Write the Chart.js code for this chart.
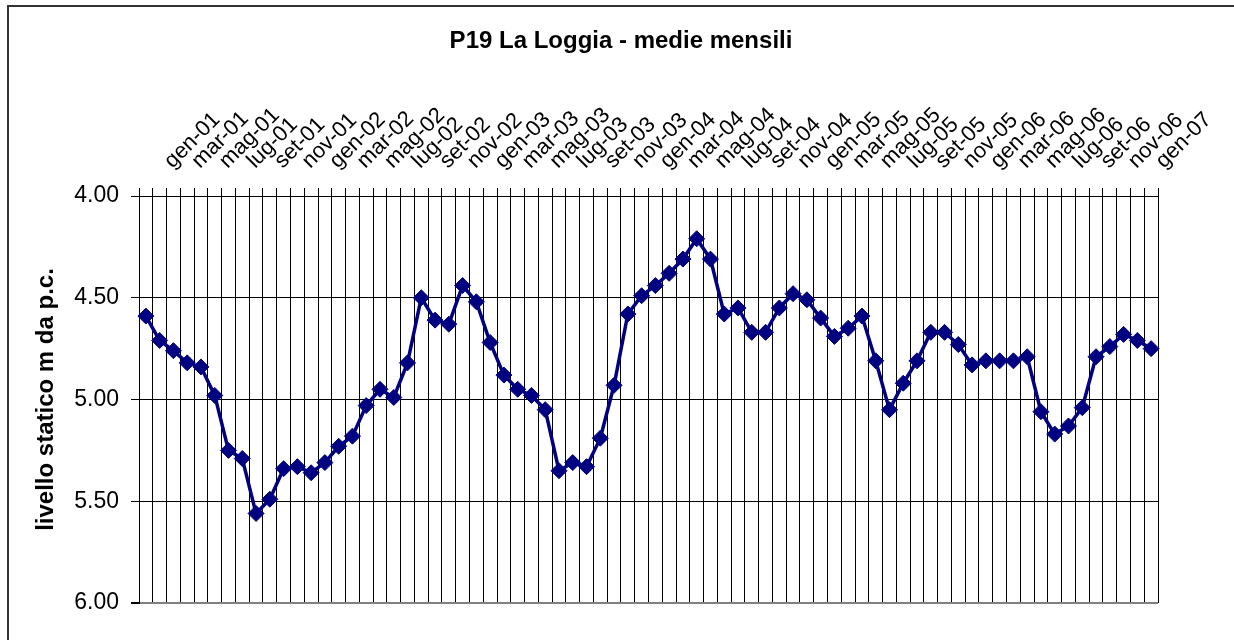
<!DOCTYPE html>
<html lang="it">
<head>
<meta charset="utf-8">
<title>P19 La Loggia - medie mensili</title>
<script src="https://cdn.jsdelivr.net/npm/chart.js@4.4.1/dist/chart.umd.min.js"></script>
<style>
    html, body { margin: 0; padding: 0; background: #fff; }
    #wrap { width: 1234px; height: 640px; }
</style>
</head>
<body>
<div id="wrap"><canvas id="loggiaChart" width="1234" height="640"></canvas></div>
<script>
// ==============================================================================
// 1. DATA
// ==============================================================================
const chartTitle = "P19 La Loggia - medie mensili";
const yTitle = "livello statico m da p.c.";

const mesi = [
    "gen-01","feb-01","mar-01","apr-01","mag-01","giu-01","lug-01","ago-01","set-01","ott-01","nov-01","dic-01",
    "gen-02","feb-02","mar-02","apr-02","mag-02","giu-02","lug-02","ago-02","set-02","ott-02","nov-02","dic-02",
    "gen-03","feb-03","mar-03","apr-03","mag-03","giu-03","lug-03","ago-03","set-03","ott-03","nov-03","dic-03",
    "gen-04","feb-04","mar-04","apr-04","mag-04","giu-04","lug-04","ago-04","set-04","ott-04","nov-04","dic-04",
    "gen-05","feb-05","mar-05","apr-05","mag-05","giu-05","lug-05","ago-05","set-05","ott-05","nov-05","dic-05",
    "gen-06","feb-06","mar-06","apr-06","mag-06","giu-06","lug-06","ago-06","set-06","ott-06","nov-06","dic-06",
    "gen-07","feb-07"
];

// livello statico (m da p.c.), one value per month
const livello = [
    4.59, 4.71, 4.76, 4.82, 4.84, 4.98, 5.25, 5.29, 5.56, 5.49, 5.34, 5.33,
    5.36, 5.31, 5.23, 5.18, 5.03, 4.95, 4.99, 4.82, 4.50, 4.61, 4.63, 4.44,
    4.52, 4.72, 4.88, 4.95, 4.98, 5.05, 5.35, 5.31, 5.33, 5.19, 4.93, 4.58,
    4.49, 4.44, 4.38, 4.31, 4.21, 4.31, 4.58, 4.55, 4.67, 4.67, 4.55, 4.48,
    4.51, 4.60, 4.69, 4.65, 4.59, 4.81, 5.05, 4.92, 4.81, 4.67, 4.67, 4.73,
    4.83, 4.81, 4.81, 4.81, 4.79, 5.06, 5.17, 5.13, 5.04, 4.79, 4.74, 4.68,
    4.71, 4.75
];

const yTicks = [4.00, 4.50, 5.00, 5.50, 6.00];

// ==============================================================================
// 2. PLUGINS (frame + title, Excel style)
// ==============================================================================
const FONT = '"Liberation Sans", Arial, sans-serif';

const excelFrame = {
    id: 'excelFrame',
    afterDraw(chart) {
        const ctx = chart.ctx;
        ctx.save();
        ctx.strokeStyle = '#333';
        ctx.lineWidth = 2;
        ctx.beginPath();
        ctx.moveTo(8, chart.height);
        ctx.lineTo(8, 6);
        ctx.lineTo(chart.width, 6);
        ctx.stroke();

        ctx.fillStyle = '#000';
        ctx.font = 'bold 24px ' + FONT;
        ctx.textAlign = 'center';
        ctx.textBaseline = 'middle';
        ctx.fillText(chartTitle, 621, 41);
        ctx.restore();
    }
};

// ==============================================================================
// 3. CHART
// ==============================================================================
Chart.defaults.font.family = FONT;
Chart.defaults.color = '#000';

const ctx = document.getElementById('loggiaChart').getContext('2d');
const loggiaChart = new Chart(ctx, {
    type: 'line',
    data: {
        labels: mesi,
        datasets: [{
            label: 'P19 La Loggia',
            data: livello,
            borderColor: '#000080',
            backgroundColor: '#000080',
            borderWidth: 3.5,
            pointStyle: 'rectRot',
            pointRadius: 8,
            pointBorderWidth: 1,
            pointBackgroundColor: '#000080',
            pointBorderColor: '#000080',
            tension: 0,
            fill: false
        }]
    },
    options: {
        responsive: false,
        animation: false,
        layout: { padding: { left: 20, right: 76, top: 60, bottom: 37 } },
        plugins: {
            legend: { display: false },
            tooltip: { enabled: false },
            title: { display: false }
        },
        scales: {
            x: {
                type: 'category',
                position: 'top',
                offset: true,
                grid: {
                    offset: true,
                    // right edge of the plot is grey like in Excel
                    color: (c) => (c.index === mesi.length ? '#808080' : '#000'),
                    lineWidth: (c) => (c.index === mesi.length ? 2 : 1),
                    tickLength: 8,
                    tickColor: '#000'
                },
                border: { color: '#000' },
                ticks: {
                    autoSkip: false,
                    minRotation: 45,
                    maxRotation: 45,
                    padding: 14,
                    labelOffset: 41,
                    font: { size: 22 },
                    callback: function(val, i) { return i % 2 === 0 ? mesi[i] : ''; }
                },
                afterFit: function(scale) { scale.height = 136; }
            },
            y: {
                reverse: true,
                min: 4,
                max: 6,
                afterBuildTicks: function(scale) { scale.ticks = yTicks.map(v => ({ value: v })); },
                grid: {
                    color: (c) => (c.tick && c.tick.value === 6 ? '#808080' : '#000'),
                    lineWidth: (c) => (c.tick && c.tick.value === 6 ? 2 : 1),
                    tickLength: 8,
                    tickColor: '#000'
                },
                border: { color: '#000' },
                ticks: {
                    padding: 12,
                    font: { size: 23 },
                    callback: function(value) { return Number(value).toFixed(2); }
                },
                title: {
                    display: true,
                    text: yTitle,
                    font: { size: 24, weight: 'bold' },
                    padding: { top: 12, bottom: 4 }
                },
                afterFit: function(scale) { scale.width = 119; }
            }
        }
    },
    plugins: [excelFrame]
});
</script>
</body>
</html>
